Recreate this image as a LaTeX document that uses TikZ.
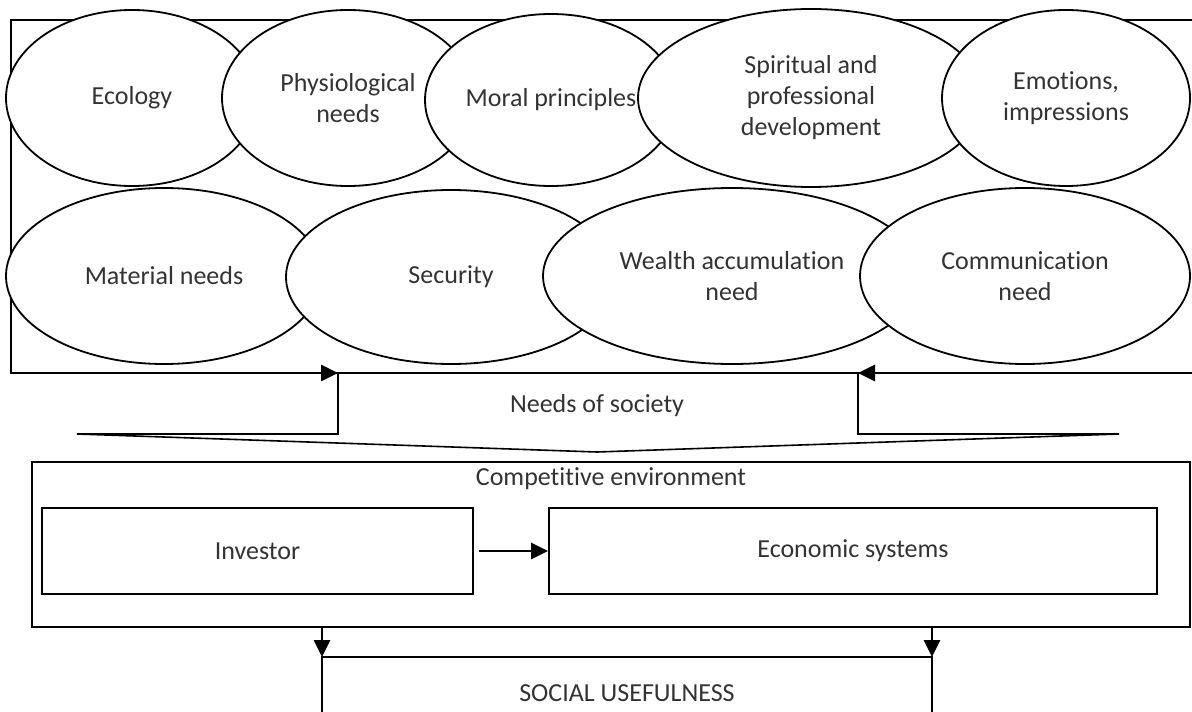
\documentclass[tikz,border=0pt]{standalone}
\usepackage{fontspec}
\setmainfont{Carlito}[Ligatures = NoCommon]
\usetikzlibrary{shapes.geometric,arrows.meta}
\tikzset{
  need/.style = {draw, ellipse, fill = white, line width = 0.9pt, inner sep = 0pt, align = center},
  box/.style = {draw, rectangle, line width = 1pt, inner sep = 0pt},
  arr/.style = {-{Triangle[length = 8.5pt, width = 8pt]}, line width = 1.4pt},
}
\begin{document}
\begin{tikzpicture}[x = 0.5pt, y = -0.5pt, font = \fontsize{13}{15.5}\selectfont, text = black!80]
	\clip (0, 0) rectangle (1192, 711);
	% frame of the needs
	\draw [line width = 1pt] (11, 20) rectangle (1210, 373);
	% first row
	\node [need, minimum width = 126pt, minimum height = 88pt] (eco)    at (132, 98)  {Ecology};
	\node [need, minimum width = 126pt, minimum height = 88pt] (phys)   at (348, 98)  {Physiological\\needs};
	\node [need, minimum width = 126pt, minimum height = 86pt] (moral)  at (551, 100) {Moral principles};
	\node [need, minimum width = 173pt, minimum height = 89pt] (spirit) at (811, 98)  {Spiritual and\\professional\\development};
	\node [need, minimum width = 124pt, minimum height = 88pt] (emo)    at (1066, 98) {Emotions,\\impressions};
	% second row
	\node [need, minimum width = 158pt, minimum height = 88pt] (mat)    at (164, 276)  {Material needs};
	\node [need, minimum width = 165pt, minimum height = 87pt] (sec)    at (451, 277)  {Security};
	\node [need, minimum width = 189pt, minimum height = 88pt] (wealth) at (732, 276)  {Wealth accumulation\\need};
	\node [need, minimum width = 165pt, minimum height = 88pt] (comm)   at (1025, 276) {Communication\\need};
	% needs of society
	\coordinate (l0) at (11, 373);
	\coordinate (l1) at (338, 373);
	\coordinate (r0) at (1210, 373);
	\coordinate (r1) at (858, 373);
	\coordinate (bl) at (77, 434);
	\coordinate (br) at (1119, 434);
	\coordinate (apex) at (597, 452);
	\draw [line width = 1.4pt] (l1) -- (r1);
	\draw [arr] (l0) to (l1);
	\draw [arr] (r0) to (r1);
	\draw [line width = 0.8pt] (l1) |- (bl) -- (apex) -- (br) -| (r1);
	\node (society) at (597, 406) {Needs of society};
	% competitive environment
	\node [box, minimum width = 579pt, minimum height = 82.5pt] (comp) at (611, 544.5) {};
	\node (comptext) at (611, 479) {Competitive environment};
	\node [box, minimum width = 215.5pt, minimum height = 43pt] (inv)  at (257.5, 551) {Investor};
	\node [box, minimum width = 304pt, minimum height = 43pt]   (econ) at (853, 551)   {Economic systems};
	\draw [arr, shorten < = 2.5pt] (inv) to (econ);
	% social usefulness
	\coordinate (s1) at (322, 657);
	\coordinate (s2) at (932, 657);
	\coordinate (e1) at (322, 720);
	\coordinate (e2) at (932, 720);
	\draw [arr] (comp.south -| s1) to (s1);
	\draw [arr] (comp.south -| s2) to (s2);
	\draw [line width = 0.8pt] (e1) -- (s1) -- (s2) -- (e2);
	\node (useful) at (627, 693) {SOCIAL USEFULNESS};
\end{tikzpicture}
\end{document}
